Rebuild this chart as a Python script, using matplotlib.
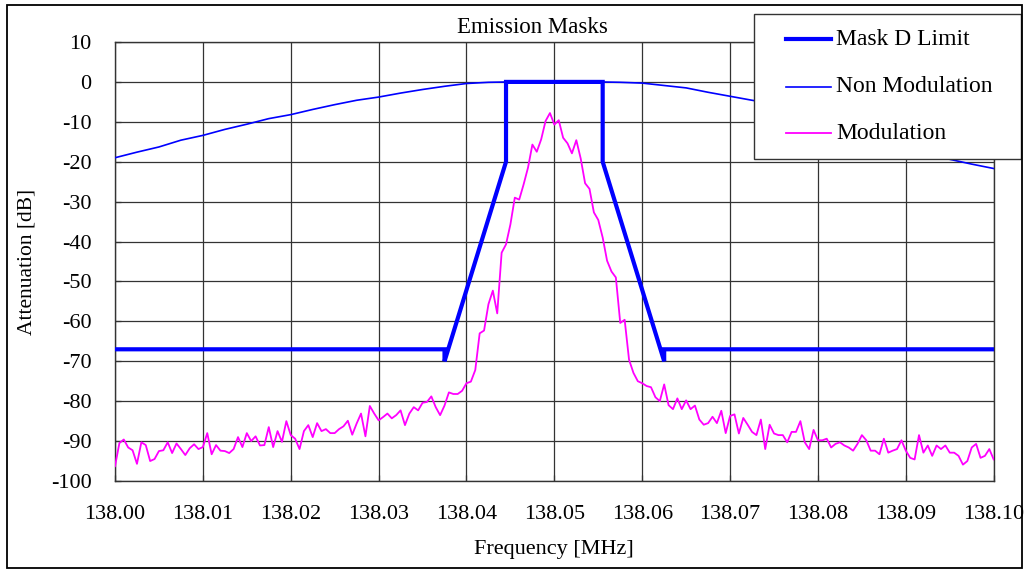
import numpy as np
import matplotlib
matplotlib.use("Agg")
import matplotlib.pyplot as plt
from matplotlib.lines import Line2D
from matplotlib.patches import Rectangle

plt.rcParams['font.family'] = ['Liberation Serif', 'DejaVu Serif']
plt.rcParams['axes.unicode_minus'] = False

# Frequencies are given as kHz offsets from 138.00 MHz
base_mhz = 138.00

# Mask D limit corner points
mask_khz = [0, 37.5, 37.5, 44.5, 44.5, 55.5, 55.5, 62.5, 62.5, 100]
mask_db = [-67, -67, -70, -20, 0, 0, -20, -70, -67, -67]

# Unmodulated carrier sweep, every 2.5 kHz
nonmod_khz = np.arange(0, 100.1, 2.5)
nonmod_db = [-19.0, -17.6, -16.3, -14.6, -13.4, -11.9, -10.6, -9.2, -8.2, -6.9,
             -5.7, -4.6, -3.8, -2.8, -1.9, -1.1, -0.4, -0.1, 0.0, 0.0,
             0.0, 0.0, 0.0, -0.1, -0.3, -0.9, -1.5, -2.6, -3.6, -4.6,
             -5.5, -6.5, -8.5, -10.0, -11.8, -13.6, -15.5, -17.4, -19.4, -20.6,
             -21.7]

# Modulated sweep, every 0.5 kHz
mod_khz = np.arange(0, 100.01, 0.5)
mod_db = [-96.3, -90.5, -89.6, -91.6, -92.3, -95.7, -90.3, -91.0, -95.0, -94.5,
          -92.5, -92.3, -90.3, -93.0, -90.6, -92.0, -93.5, -91.8, -90.8, -92.0,
          -91.5, -88.0, -93.3, -91.0, -92.4, -92.5, -93.0, -92.0, -89.0, -91.5,
          -88.0, -90.0, -88.8, -91.1, -91.0, -86.5, -91.5, -87.5, -90.2, -85.0,
          -88.5, -89.4, -92.0, -87.5, -86.0, -89.0, -85.5, -87.5, -87.0, -88.0,
          -88.0, -87.0, -86.3, -84.9, -88.4, -85.6, -83.1, -88.8, -81.2, -83.1,
          -84.8, -84.0, -83.1, -84.3, -83.5, -82.3, -86.0, -83.1, -81.5, -82.3,
          -80.4, -80.2, -78.8, -81.5, -83.5, -81.1, -77.8, -78.2, -78.2, -77.4,
          -75.5, -75.1, -72.2, -63.0, -62.3, -55.7, -52.3, -58.0, -42.8, -40.7,
          -35.7, -29.0, -29.5, -25.7, -21.5, -15.7, -17.5, -14.4, -9.8, -7.8,
          -10.7, -9.6, -14.0, -15.4, -17.9, -14.6, -19.2, -25.4, -26.8, -32.7,
          -34.6, -39.0, -44.8, -47.5, -49.0, -60.4, -59.6, -69.6, -72.9, -75.0,
          -75.5, -76.2, -76.5, -79.0, -80.0, -75.8, -81.0, -82.0, -79.3, -82.0,
          -79.8, -82.0, -81.1, -84.6, -85.9, -85.5, -83.9, -85.5, -82.4, -88.0,
          -83.7, -83.3, -88.1, -84.2, -85.9, -87.7, -88.5, -84.6, -92.0, -85.9,
          -88.1, -88.5, -88.5, -90.3, -87.7, -87.7, -85.0, -90.3, -92.0, -87.2,
          -89.8, -89.8, -89.4, -91.6, -90.7, -90.3, -91.1, -91.6, -92.4, -90.7,
          -88.5, -89.8, -92.4, -92.4, -93.3, -89.4, -92.9, -92.4, -92.0, -89.8,
          -92.4, -94.2, -94.6, -88.5, -92.9, -91.1, -93.7, -91.1, -92.0, -91.1,
          -92.9, -92.9, -93.7, -95.9, -95.0, -91.6, -90.7, -94.2, -93.7, -92.0,
          -94.6]

x_ticks = [138.00, 138.01, 138.02, 138.03, 138.04, 138.05,
           138.06, 138.07, 138.08, 138.09, 138.10]
y_ticks = [10, 0, -10, -20, -30, -40, -50, -60, -70, -80, -90, -100]
series_names = ["Mask D Limit", "Non Modulation", "Modulation"]

W, H = 1027, 570
fig = plt.figure(figsize=(W / 100, H / 100), dpi=100)
ax = fig.add_axes([115 / W, 1 - 481 / H, 878.7 / W, 439 / H])

to_mhz = lambda k: base_mhz + np.asarray(k) / 1000.0

ax.plot(to_mhz(nonmod_khz), nonmod_db, color="#0000ff", lw=1.2, zorder=3)
ax.plot(to_mhz(mod_khz), mod_db, color="#ff00ff", lw=1.3, zorder=3)
ax.plot(to_mhz(mask_khz), mask_db, color="#0000ff", lw=3.0, zorder=4,
        solid_joinstyle="miter")

ax.set_xlim(138.00, 138.10)
ax.set_ylim(-100, 10)
ax.set_xticks(x_ticks)
ax.set_xticklabels([f"{t:.2f}" for t in x_ticks])
ax.set_yticks(y_ticks)
ax.tick_params(direction="in", length=4.3, width=0.9, color="#333333",
               labelsize=16)
ax.tick_params(axis="y", pad=17)
ax.tick_params(axis="x", pad=17)
ax.grid(True, color="#333333", lw=0.9)
for sp in ax.spines.values():
    sp.set_color("#333333")
    sp.set_linewidth(1.0)

ax.set_xlabel("Frequency [MHz]", fontsize=16, va="center")
ax.xaxis.set_label_coords(0.5, -0.155)
ax.set_ylabel("Attenuation [dB]", fontsize=15.5, va="center")
ax.yaxis.set_label_coords(-0.1, 0.5)

ax.text(0.4746, 1.0335, "Emission Masks", transform=ax.transAxes,
        ha="center", va="center", fontsize=16.5)

# Legend box drawn in figure coordinates
fig.add_artist(Rectangle((754 / W, 1 - 159 / H), 267 / W, 145 / H,
                         transform=fig.transFigure, facecolor="white",
                         edgecolor="#333333", lw=1.0, zorder=5))
rows_px = [39.3, 86.7, 133.3]
handle_lw = [3.0, 1.2, 1.3]
handle_col = ["#0000ff", "#0000ff", "#ff00ff"]
for name, ypx, lw, col in zip(series_names, rows_px, handle_lw, handle_col):
    yf = 1 - ypx / H
    fig.add_artist(Line2D([786 / W, 831 / W], [yf, yf], transform=fig.transFigure,
                          color=col, lw=lw, zorder=6))
    fig.text(836 / W, yf, name, ha="left", va="center", fontsize=17, zorder=6)

# outer chart border
fig.add_artist(Rectangle((7 / W, 1 - 568 / H), 1015 / W, 563 / H,
                         transform=fig.transFigure, fill=False,
                         edgecolor="black", lw=1.3, zorder=7))

fig.savefig("out.png", dpi=100)
